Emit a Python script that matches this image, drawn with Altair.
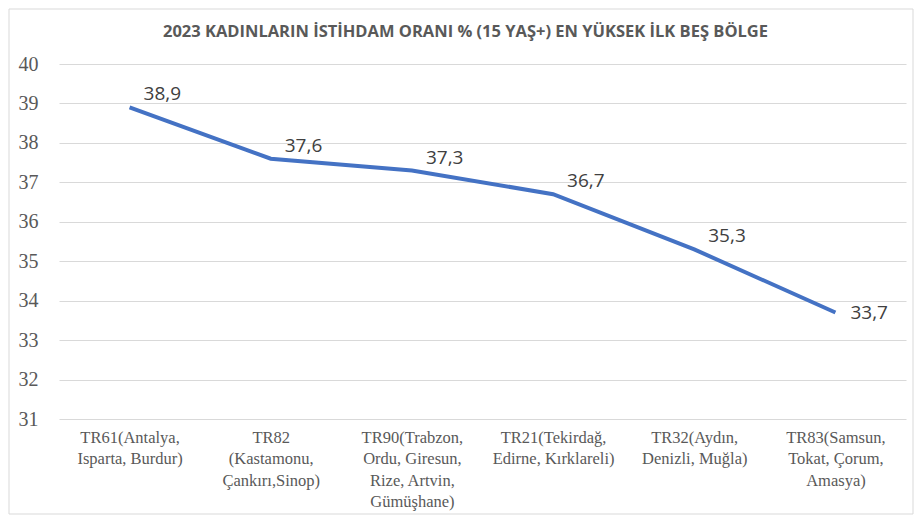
import altair as alt
import pandas as pd

title_text = "2023 KADINLARIN  İSTİHDAM ORANI % (15 YAŞ+) EN YÜKSEK İLK BEŞ BÖLGE"
regions = [
    "TR61(Antalya,|Isparta, Burdur)",
    "TR82|(Kastamonu,|Çankırı,Sinop)",
    "TR90(Trabzon,|Ordu, Giresun,|Rize, Artvin,|Gümüşhane)",
    "TR21(Tekirdağ,|Edirne, Kırklareli)",
    "TR32(Aydın,|Denizli, Muğla)",
    "TR83(Samsun,|Tokat, Çorum,|Amasya)",
]
values = [38.9, 37.6, 37.3, 36.7, 35.3, 33.7]
y_ticks = [31, 32, 33, 34, 35, 36, 37, 38, 39, 40]

df = pd.DataFrame({"region": regions, "value": values, "idx": list(range(len(values)))})

W, H = 847, 355
SERIF = "Times New Roman, Liberation Serif, DejaVu Serif, serif"

x = alt.X("region:N", sort=regions, title=None,
          axis=alt.Axis(labelAngle=0, labelExpr="split(datum.label, '|')",
                        labelFont=SERIF, labelFontSize=16.5,
                        labelColor="#595959", labelLineHeight=21.5,
                        labelLimit=0, labelPadding=10, domain=False, ticks=False,
                        grid=False, labelBaseline="top", labelOverlap=False))
y = alt.Y("value:Q", title=None,
          scale=alt.Scale(domain=[31, 40], nice=False, zero=False),
          axis=alt.Axis(values=y_ticks, labelFont=SERIF, labelFontSize=20,
                        labelColor="#595959", labelPadding=21, domain=False, ticks=False,
                        labelOverlap=False,
                        grid=True, gridColor="#d9d9d9", gridWidth=1))

base = alt.Chart(df)

line = base.mark_line(color="#4472C4", strokeWidth=4).encode(x=x, y=y)

lab = base.transform_calculate(
    txt="replace(format(datum.value, '.1f'), '.', ',')"
)
labels_a = lab.transform_filter("datum.idx < 5").mark_text(
    align="left", baseline="middle", dx=14, dy=-13,
    font="Open Sans", fontSize=19, color="#404040"
).encode(x=x, y=y, text="txt:N")
labels_b = lab.transform_filter("datum.idx == 5").mark_text(
    align="left", baseline="middle", dx=15, dy=0,
    font="Open Sans", fontSize=19, color="#404040"
).encode(x=x, y=y, text="txt:N")

frame = base.transform_filter("datum.idx == 0").mark_rect(
    fill=None, stroke="#d9d9d9", strokeWidth=1
).encode(x=alt.value(-50), x2=alt.value(854), y=alt.value(-55), y2=alt.value(450))

title = base.transform_filter("datum.idx == 0").transform_calculate(
    t=f"'{title_text}'"
).mark_text(
    align="center", baseline="alphabetic", font="Open Sans", fontSize=16.5,
    fontWeight="bold", color="#595959"
).encode(x=alt.value(W / 2 - 17), y=alt.value(-27), text="t:N")

chart = alt.layer(line, labels_a, labels_b, frame, title).properties(
    width=W, height=H,
    autosize=alt.AutoSizeParams(type="none"),
    padding={"left": 51, "top": 56, "right": 8, "bottom": 96},
).configure_view(stroke=None)

chart.save("out.html", embed_options={"renderer": "svg", "actions": False})
